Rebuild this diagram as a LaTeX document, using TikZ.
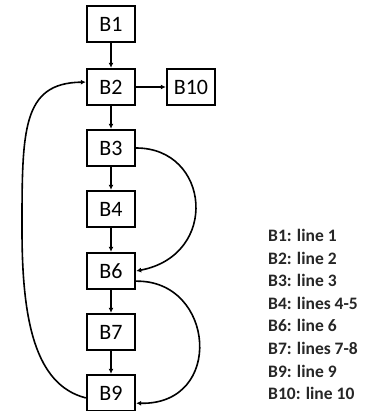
\documentclass[tikz,border=0pt]{standalone}
\usepackage{fontspec}
\setmainfont{Carlito}
\usetikzlibrary{arrows.meta}

\begin{document}
\begin{tikzpicture}[x=1pt, y=-1pt, >={Latex[length=5pt,width=5pt]},
    block/.style ={rectangle, draw, line width=2.4pt, inner sep=0pt, minimum width=48pt, minimum height=36pt, font=\fontsize{22}{24}\selectfont},
    legend/.style ={anchor=base west, inner sep=0pt, text=black!85, font=\fontsize{17.5}{20}\selectfont\bfseries}]
   \useasboundingbox (0,0) rectangle (364,411);
   % basic blocks
   \node[block] (B1)  at (111,24)  {B1};
   \node[block] (B2)  at (111,87)  {B2};
   \node[block] (B10) at (191,87)  {B10};
   \node[block] (B3)  at (111,148) {B3};
   \node[block] (B4)  at (111,209) {B4};
   \node[block] (B6)  at (111,271) {B6};
   \node[block] (B7)  at (111,332) {B7};
   \node[block] (B9)  at (111,393) {B9};
   % fall-through edges
   \draw[line width=1.6pt, ->] (B1) to (B2);
   \draw[line width=1.6pt, ->] (B2) to (B10);
   \draw[line width=1.6pt, ->] (B2) to (B3);
   \draw[line width=1.6pt, ->] (B3) to (B4);
   \draw[line width=1.6pt, ->] (B4) to (B6);
   \draw[line width=1.6pt, ->] (B6) to (B7);
   \draw[line width=1.6pt, ->] (B7) to (B9);
   % jumps
   \draw[line width=1.6pt, ->] (B3.east) .. controls (210,148) and (220,255) .. (B6.east);
   \draw[line width=1.6pt, ->] (B6.338) .. controls (215,280) and (225,405) .. (B9.338);
   \draw[line width=1.6pt, ->] (B9.191) .. controls (35,385) and (22,320) .. (22,230)
                               .. controls (22,130) and (22,83) .. (B2.169);
   % line numbers
   \foreach \txt [count=\i from 0] in {B1: line 1, B2: line 2, B3: line 3, B4: lines 4-5,
                                       B6: line 6, B7: lines 7-8, B9: line 9, B10: line 10}
      \node[legend] (L\i) at (268, 241.5+22.6*\i) {\txt};
\end{tikzpicture}
\end{document}
